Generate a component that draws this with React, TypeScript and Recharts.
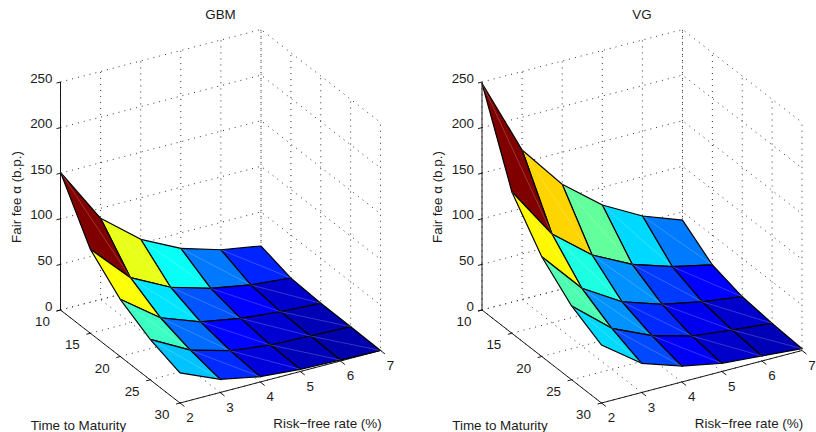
import { ScatterChart, Scatter, XAxis, YAxis } from 'recharts';

const maturities = [10, 15, 20, 25, 30];
const rates = [2, 3, 4, 5, 6, 7];
const feeTicks = [0, 50, 100, 150, 200, 250];

// rows = maturity, columns = risk-free rate
const gbmFees = [
  [151, 89, 54.5, 33, 20, 12.6],
  [92, 49.4, 27.4, 14.7, 6.9, 3],
  [62.7, 31, 15, 7.3, 3, 0.8],
  [44.3, 21, 8.8, 3.6, 1.9, 0.6],
  [33, 14.5, 5.8, 2.4, 1.1, 0],
];

const vgFees = [
  [248.6, 164, 114.8, 80.6, 57, 41],
  [155, 97.3, 62.8, 41, 27, 17.3],
  [109.4, 63.3, 37, 22.7, 14, 8],
  [80.9, 44.9, 25.3, 13.4, 8.5, 4.3],
  [63.6, 32, 17.5, 9, 5.5, 2],
];

const FONT = '"Liberation Sans", Arial, sans-serif';
const TEXT = '#1c1c1c';
const FONT_SIZE = 13.4;
const COLOR_FLOOR = -5;

function clamp(v: number) {
  return Math.max(0, Math.min(1, v));
}

// MATLAB jet
function jet(t: number) {
  const r = clamp(1.5 - Math.abs(4 * t - 3));
  const g = clamp(1.5 - Math.abs(4 * t - 2));
  const b = clamp(1.5 - Math.abs(4 * t - 1));
  return `rgb(${Math.round(r * 255)},${Math.round(g * 255)},${Math.round(b * 255)})`;
}

// orthographic view of the MATLAB axes box, in chart units
function project(originX: number, T: number, r: number, z: number) {
  const u = (T - 10) / 20;
  const v = (r - 2) / 5;
  return {
    x: originX + 119.5 * u + 200.5 * v,
    y: 310 + 93 * u - 52.5 * v - z * 0.912,
  };
}

const NoDot = () => <g />;

interface Props {
  title: string;
  fees: number[][];
  width: number;
  originX: number;
  left: number;
}

function SurfacePanel({ title, fees, width, originX, left }: Props) {
  const p = (T: number, r: number, z: number) => project(originX, T, r, z);
  const zMax = fees[0][0];
  const tMin = maturities[0];
  const tMax = maturities[maturities.length - 1];
  const rMin = rates[0];
  const rMax = rates[rates.length - 1];
  const zTop = feeTicks[feeTicks.length - 1];

  const dotted: { x: number; y: number }[][] = [];
  feeTicks.forEach((z) => {
    dotted.push([p(tMin, rMin, z), p(tMin, rMax, z), p(tMax, rMax, z)]);
  });
  rates.forEach((r) => {
    dotted.push([p(tMax, r, 0), p(tMin, r, 0), p(tMin, r, zTop)]);
  });
  maturities.forEach((T) => {
    dotted.push([p(T, rMin, 0), p(T, rMax, 0), p(T, rMax, zTop)]);
  });

  const solid = [
    [p(tMin, rMin, 0), p(tMin, rMin, zTop)],
    [p(tMin, rMin, 0), p(tMax, rMin, 0)],
    [p(tMax, rMin, 0), p(tMax, rMax, 0)],
    ...feeTicks.map((z) => [p(tMin, rMin, z), p(tMin, rMin - 0.1, z)]),
    ...maturities.map((T) => [p(T, rMin, 0), p(T, rMin - 0.1, 0)]),
    ...rates.map((r) => [p(tMax, r, 0), p(tMax + 0.75, r, 0)]),
  ];

  // painter's order: far cells first
  const cells: { i: number; j: number }[] = [];
  for (let i = 0; i < maturities.length - 1; i++) {
    for (let j = rates.length - 2; j >= 0; j--) cells.push({ i, j });
  }

  const corner = (i: number, j: number) => p(maturities[i], rates[j], fees[i][j]);
  const cellColor = (z: number) => jet((z - COLOR_FLOOR) / (zMax - COLOR_FLOOR));

  const feeLabels = feeTicks.map((z) => ({ ...p(tMin, rMin, z), label: String(z) }));
  const maturityLabels = maturities.map((T) => ({ ...p(T, rMin, 0), label: String(T) }));
  const rateLabels = rates.map((r) => ({ ...p(tMax, r, 0), label: String(r) }));

  const labelShape = (dx: number, dy: number, anchor: string) => (props: any) => (
    <text
      x={props.cx + dx}
      y={props.cy + dy}
      textAnchor={anchor}
      fontFamily={FONT}
      fontSize={FONT_SIZE}
      fill={TEXT}
    >
      {props.payload.label}
    </text>
  );

  const height = 432;
  return (
    <div style={{ position: 'absolute', left, top: 0, width, height }}>
      <ScatterChart width={width} height={height} margin={{ top: 0, right: 0, bottom: 0, left: 0 }}>
        <XAxis type="number" dataKey="x" domain={[0, width]} hide />
        <YAxis type="number" dataKey="y" domain={[0, height]} reversed hide />
        {dotted.map((pts, k) => (
          <Scatter
            key={`dot-${k}`}
            data={pts}
            isAnimationActive={false}
            shape={NoDot}
            line={{ stroke: '#333', strokeWidth: 1, strokeDasharray: '1 5', fill: 'none' }}
          />
        ))}
        {solid.map((pts, k) => (
          <Scatter
            key={`axis-${k}`}
            data={pts}
            isAnimationActive={false}
            shape={NoDot}
            line={{ stroke: '#000', strokeWidth: 0.9, fill: 'none' }}
          />
        ))}
        {cells.map(({ i, j }) => (
          <Scatter
            key={`cell-${i}-${j}`}
            data={[corner(i, j), corner(i, j + 1), corner(i + 1, j + 1), corner(i + 1, j), corner(i, j)]}
            isAnimationActive={false}
            shape={NoDot}
            line={{ stroke: '#000', strokeWidth: 1.2, fill: cellColor(fees[i][j]) }}
          />
        ))}
        {cells.map(({ i, j }) => (
          <Scatter
            key={`seam-${i}-${j}`}
            data={[corner(i, j), corner(i + 1, j + 1)]}
            isAnimationActive={false}
            shape={NoDot}
            line={{ stroke: '#fff', strokeWidth: 0.6, strokeOpacity: 0.35, fill: 'none' }}
          />
        ))}
        <Scatter data={feeLabels} isAnimationActive={false} shape={labelShape(-8, 0.5, 'end')} />
        <Scatter data={maturityLabels} isAnimationActive={false} shape={labelShape(-18, 16, 'middle')} />
        <Scatter data={rateLabels} isAnimationActive={false} shape={labelShape(10, 19, 'middle')} />
        <text x={originX + 160} y={19} textAnchor="middle" fontFamily={FONT} fontSize={FONT_SIZE} fill={TEXT}>
          {title}
        </text>
        <text
          transform={`translate(${originX - 40},197) rotate(-90)`}
          textAnchor="middle"
          fontFamily={FONT}
          fontSize={FONT_SIZE}
          fill={TEXT}
        >
          Fair fee α (b.p.)
        </text>
        <text x={originX + 18} y={430} textAnchor="middle" fontFamily={FONT} fontSize={FONT_SIZE} fill={TEXT}>
          Time to Maturity
        </text>
        <text x={originX + 267} y={428} textAnchor="middle" fontFamily={FONT} fontSize={FONT_SIZE} fill={TEXT}>
          Risk−free rate (%)
        </text>
      </ScatterChart>
    </div>
  );
}

export default function App() {
  return (
    <div style={{ position: 'absolute', left: 0, top: 0, width: 816, height: 432, background: '#fff' }}>
      <SurfacePanel title="GBM" fees={gbmFees} width={421} originX={60.5} left={0} />
      <SurfacePanel title="VG" fees={vgFees} width={395} originX={61} left={421} />
    </div>
  );
}
